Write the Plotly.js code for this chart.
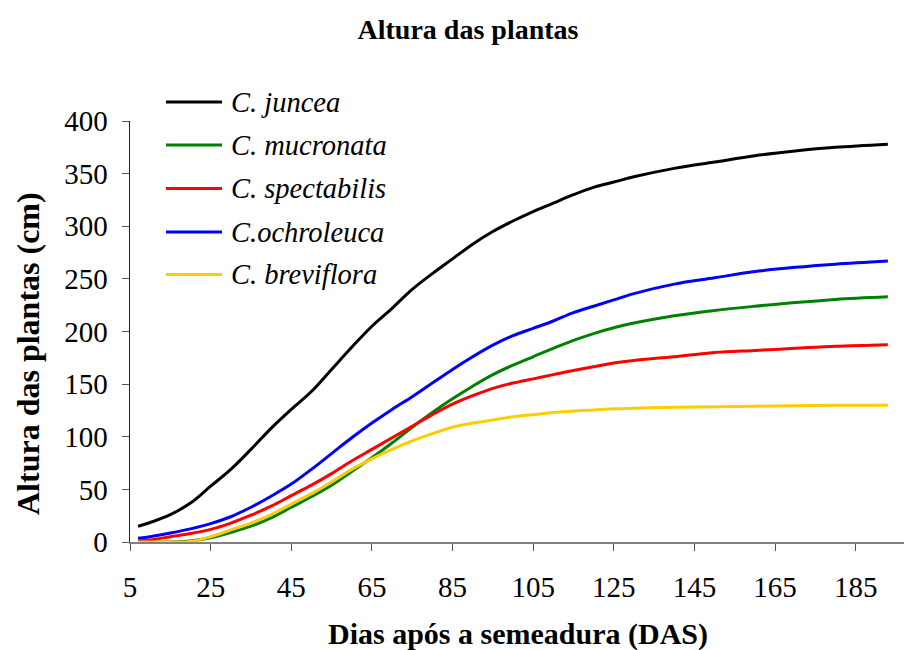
<!DOCTYPE html>
<html>
<head>
<meta charset="utf-8">
<script src="https://cdn.plot.ly/plotly-3.0.1.min.js"></script>
<style>html,body{margin:0;padding:0;background:#fff;}#chart{width:904px;height:650px;}</style>
</head>
<body>
<div id="chart"></div>
<script>
// Days after sowing (DAS)
const days = [7,10,15,20,25,30,35,40,45,50,55,60,65,70,75,80,85,90,95,100,105,110,115,120,125,130,140,150,160,170,180,193];

// Plant height (cm) per species
const juncea      = [15,18.5,26,37,53,69,88,108,126,143,164,185,205,222,240,255,269,283,295,305,314,322,330,337,342,347,355,361,367,371.5,375,378];
const mucronata   = [0,0,0,1,4,9,15,23,33,43,54,67,80,94,109,123,136,148,159,168,176,184,191.5,198,203.5,208,215,220,224,227.5,230.5,233];
const spectabilis = [1,2,5,8,12,18,25.5,34,44,54,65,77,88,99,110,121,131,139,146,151,155,159,163,166.5,170,172.5,176,180,182,184,186,187.5];
const ochroleuca  = [3.5,5,8.5,12.5,17.5,24,33,43.5,55,69,84,99,113,126,138,151,164,176,187,196,203,210,218,224,230,236,245,251,257,261,264,267];
const breviflora  = [0,0,0,0.5,5,11.5,18,26,36,46,57,69,79,88,96,103,109,113,116,119,121,123,124.5,125.5,126.5,127,128,128.5,129,129.5,130,130];

const seriesNames  = ["C. juncea","C. mucronata","C. spectabilis","C.ochroleuca","C. breviflora"];
const seriesValues = [juncea, mucronata, spectabilis, ochroleuca, breviflora];
const seriesColors = ["#000000","#008000","#FF0000","#0000FF","#FFCC00"];

const xTickVals = [5,25,45,65,85,105,125,145,165,185];
const yTickVals = [0,50,100,150,200,250,300,350,400];

// layout geometry (pixels)
const W = 904, H = 650;
const M = {l:130, r:0, t:121, b:108};
const plotW = W - M.l - M.r, plotH = H - M.t - M.b;
const px2x = p => (p - M.l) / plotW;
const px2y = p => (H - M.b - p) / plotH;

const FONT = 'Liberation Serif';

const traces = seriesNames.map((n,i) => ({
  type:'scatter', mode:'lines', name:n,
  x: days, y: seriesValues[i],
  line:{color:seriesColors[i], width:3, shape:'spline', smoothing:1},
  showlegend:false, hoverinfo:'x+y+name'
}));

// manual legend (line samples + italic labels)
const legendRowsPx = [102, 145, 188.5, 232, 274.5];
const shapes = [], annotations = [];
seriesNames.forEach((n,i) => {
  shapes.push({type:'line', xref:'paper', yref:'paper',
    x0:px2x(166), x1:px2x(222), y0:px2y(legendRowsPx[i]), y1:px2y(legendRowsPx[i]),
    line:{color:seriesColors[i], width:3}});
  annotations.push({xref:'paper', yref:'paper', x:px2x(229), y:px2y(legendRowsPx[i]),
    xanchor:'left', yanchor:'middle', showarrow:false, text:n,
    font:{family:FONT, size:28.5, color:'#000', style:'italic'}});
});
// y-axis title
annotations.push({xref:'paper', yref:'paper', x:px2x(28), y:px2y(354),
  xanchor:'center', yanchor:'middle', showarrow:false, textangle:-90,
  text:'Altura das plantas (cm)', font:{family:FONT, size:32, color:'#000', weight:'bold'}});
// x-axis title
annotations.push({xref:'paper', yref:'paper', x:px2x(518), y:px2y(634),
  xanchor:'center', yanchor:'middle', showarrow:false,
  text:'Dias após a semeadura (DAS)', font:{family:FONT, size:30, color:'#000', weight:'bold'}});

const layout = {
  width:W, height:H, margin:M,
  font:{family:FONT},
  paper_bgcolor:'#fff', plot_bgcolor:'#fff',
  title:{text:'Altura das plantas', font:{family:FONT, size:28, color:'#000', weight:'bold'},
    xref:'container', yref:'container', x:468/W, y:1-29/H, xanchor:'center', yanchor:'middle'},
  xaxis:{range:[5,197], tickvals:xTickVals, ticktext:xTickVals.map(String),
    ticks:'outside', ticklen:7, tickcolor:'#555', tickwidth:1,
    showline:true, linecolor:'#808080', linewidth:1.5, showgrid:false, zeroline:false,
    ticklabelstandoff:12,
    tickfont:{family:FONT, size:29, color:'#000'}},
  yaxis:{range:[0,400], tickvals:yTickVals, ticktext:yTickVals.map(String),
    ticks:'outside', ticklen:7, tickcolor:'#555', tickwidth:1,
    showline:true, linecolor:'#222', linewidth:1.5, showgrid:false, zeroline:false,
    ticklabelstandoff:8,
    tickfont:{family:FONT, size:29, color:'#000'}},
  shapes:shapes, annotations:annotations, showlegend:false
};

Plotly.newPlot('chart', traces, layout, {displayModeBar:false, staticPlot:true});
</script>
</body>
</html>
